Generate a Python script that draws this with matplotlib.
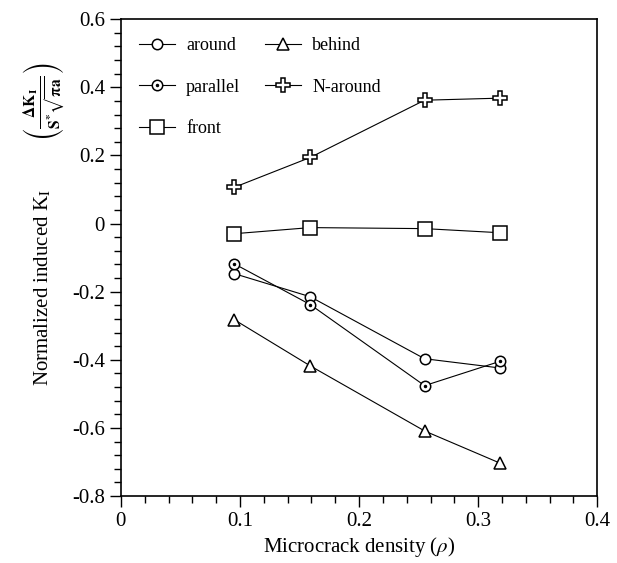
from matplotlib import pyplot as plt
from matplotlib.ticker import MultipleLocator, FuncFormatter
from matplotlib.legend_handler import HandlerTuple

plt.rcParams['font.family'] = ['Liberation Serif', 'DejaVu Serif']
plt.rcParams['mathtext.fontset'] = 'stix'
plt.rcParams['axes.unicode_minus'] = False

# microcrack density for every series
density = [0.095, 0.159, 0.255, 0.318]

around = [-0.147, -0.215, -0.397, -0.424]
parallel = [-0.118, -0.238, -0.476, -0.405]
front = [-0.030, -0.012, -0.015, -0.027]
behind = [-0.282, -0.418, -0.609, -0.703]
n_around = [0.106, 0.194, 0.362, 0.368]

fig = plt.figure(figsize=(6.17, 5.63), dpi=100)
ax = fig.add_axes([0.196, 0.119, 0.772, 0.847])

lw = 0.8
mew = 1.1
l_around, = ax.plot(density, around, '-', color='black', lw=lw, marker='o',
                    ms=7.5, mfc='white', mec='black', mew=mew, label='around')
l_par, = ax.plot(density, parallel, '-', color='black', lw=lw, marker='o',
                 ms=7.5, mfc='white', mec='black', mew=mew)
d_par, = ax.plot(density, parallel, ls='none', marker='o', ms=1.5,
                 mfc='black', mec='black')
l_front, = ax.plot(density, front, '-', color='black', lw=lw, marker='s',
                   ms=10, mfc='white', mec='black', mew=mew, label='front')
l_behind, = ax.plot(density, behind, '-', color='black', lw=lw, marker='^',
                    ms=9, mfc='white', mec='black', mew=mew, label='behind')
l_n, = ax.plot(density, n_around, '-', color='black', lw=lw, marker='P',
               ms=10, mfc='white', mec='black', mew=mew, label='N-around')

ax.legend([l_around, (l_par, d_par), l_front, l_behind, l_n],
          ['around', 'parallel', 'front', 'behind', 'N-around'],
          handler_map={tuple: HandlerTuple(ndivide=1)},
          ncol=2, loc='upper left', frameon=False, fontsize=13,
          handlelength=2.0, handletextpad=0.6, columnspacing=1.4,
          labelspacing=1.35, borderaxespad=0.6)

ax.set_xlim(0, 0.4)
ax.set_ylim(-0.8, 0.6)
ax.xaxis.set_major_locator(MultipleLocator(0.1))
ax.xaxis.set_minor_locator(MultipleLocator(0.02))
ax.yaxis.set_major_locator(MultipleLocator(0.2))
ax.yaxis.set_minor_locator(MultipleLocator(0.04))
fmt = FuncFormatter(lambda v, p: '%g' % round(v, 3))
ax.xaxis.set_major_formatter(fmt)
ax.yaxis.set_major_formatter(fmt)
ax.tick_params(which='both', direction='out', top=False, right=False,
               labelsize=15, width=1.0)
ax.tick_params(which='major', length=8)
ax.tick_params(which='minor', length=5)
for s in ax.spines.values():
    s.set_linewidth(1.2)

ax.set_xlabel(r'Microcrack density ($\rho$)', fontsize=15, labelpad=3)
fig.text(0.070, 0.49, r'Normalized induced K$_\mathrm{I}$', rotation=90,
         fontsize=15, ha='center', va='center')
fig.text(0.072, 0.82,
         r'$\left(\frac{\mathbf{\Delta K_{I}}}{\mathbf{S^{*}\sqrt{\pi a}}}\right)$',
         rotation=90, fontsize=16, ha='center', va='center')

fig.savefig('out.png', dpi=100)
